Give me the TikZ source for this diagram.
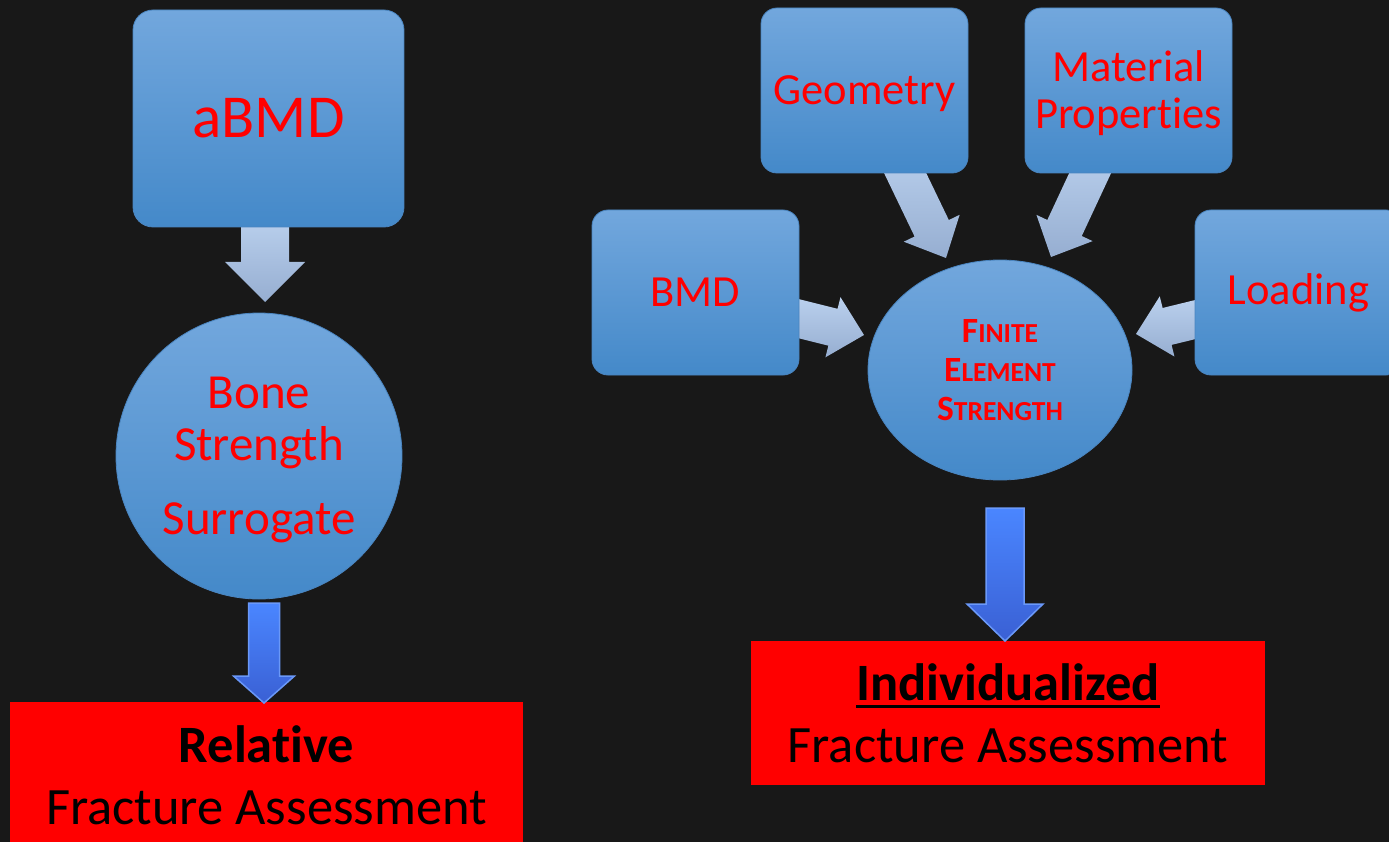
\documentclass[tikz,border=0pt]{standalone}
\usepackage{fontspec}
\setmainfont{Carlito}[Ligatures=NoCommon]
\usetikzlibrary{calc,shapes.geometric}
\definecolor{bgc}{HTML}{181818}
\definecolor{boxtop}{HTML}{72A7DD}
\definecolor{boxbot}{HTML}{4489C9}
\definecolor{boxedge}{HTML}{4A85C0}
\definecolor{lighttop}{HTML}{BBD1EE}
\definecolor{lightbot}{HTML}{96AED1}
\definecolor{bluetop}{HTML}{4A86FF}
\definecolor{bluebot}{HTML}{3A60D4}
\definecolor{blueedge}{HTML}{6A98F8}
\definecolor{txtred}{HTML}{FF0000}
\pgfdeclarelayer{bglayer}
\pgfdeclarelayer{arrowlayer}
\pgfsetlayers{bglayer,arrowlayer,main}
% tail, tip, shaft half width, head half width, head length, style
\newcommand\mkarrow[6]{%
  \coordinate (mk-h) at ($(#2)!#5!(#1)$);
  \path[#6] ($(#1)!#3!90:(#2)$) -- ($(mk-h)!#3!90:(#2)$) -- ($(mk-h)!#4!90:(#2)$)
    -- (#2) -- ($(mk-h)!#4!-90:(#2)$) -- ($(mk-h)!#3!-90:(#2)$) -- ($(#1)!#3!-90:(#2)$) -- cycle;
}
\newcommand\fsc[2]{{\fontsize{35.5}{39}\selectfont #1}{\fontsize{27.5}{39}\selectfont #2}}
\newcommand\ulb[1]{\setbox0\hbox{#1}\rlap{\rule[-8pt]{\wd0}{3pt}}\box0}
\newcommand\dropit[1]{\raisebox{-3pt}[\height][\depth]{#1}}
\tikzset{
  bluebox/.style={rectangle, rounded corners=16pt, top color=boxtop, bottom color=boxbot,
    draw=boxedge, line width=0.8pt, text=txtred, align=center, inner sep=0pt,
    minimum width=207pt, minimum height=165pt, font=\fontsize{44.5}{47}\selectfont},
  redbox/.style={rectangle, fill=txtred, text=black, align=center, inner sep=0pt,
    font=\fontsize{52.5}{62}\selectfont},
  lightarrow/.style={top color=lighttop, bottom color=lightbot},
  bluearrow/.style={top color=bluetop, bottom color=bluebot, draw=blueedge, line width=1.5pt, line join=miter},
}
\begin{document}
\begin{tikzpicture}[x=1pt,y=-1pt]
\useasboundingbox (0,0) rectangle (1389,842);
\begin{pgfonlayer}{bglayer}
  \fill[bgc] (0,0) rectangle (1389,842);
\end{pgfonlayer}

% left column
\node[bluebox, minimum width=271pt, minimum height=217pt, rounded corners=20pt,
  font=\fontsize{61}{64}\selectfont] (abmd) at (268.5,118.5) {aBMD};
\node[circle, minimum size=286pt, inner sep=0pt, top color=boxtop, bottom color=boxbot,
  draw=boxedge, line width=0.8pt, text=txtred, align=center,
  font=\fontsize{49}{52}\selectfont] (bone) at (259,456) {\rule{0pt}{40pt}Bone\\Strength\\[22pt]Surrogate};
\node[redbox, minimum width=513pt, minimum height=146pt] (rel) at (266.5,775)
  {\textbf{Relat\kern0pt ive}\\Fracture Assessment};

% right group
\node[bluebox] (geo) at (864.5,90.5) {\dropit{Geometry}};
\node[bluebox] (mat) at (1128.5,90.5) {\dropit{Material}\\\dropit{Propert\kern0pt ies}};
\node[bluebox] (bmd) at (695.5,292.5) {BMD};
\node[bluebox] (load) at (1298.5,292.5) {Loading};
\node[ellipse, minimum width=264pt, minimum height=220pt, inner sep=0pt,
  top color=boxtop, bottom color=boxbot, draw=boxedge, line width=0.8pt,
  text=txtred, align=center, font=\bfseries\fontsize{35.5}{39}\selectfont] (fe) at (1000,370)
  {\fsc{F}{INITE}\\\fsc{E}{LEMENT}\\\fsc{S}{TRENGTH}};
\node[redbox, minimum width=514pt, minimum height=144pt] (ind) at (1008,713)
  {\textbf{\ulb{Individualized}}\\Fracture Assessment};

% connector end points
\coordinate (abmd-t) at (265,215);   \coordinate (bone-h) at (265,302);
\coordinate (bone-t) at (264,603);   \coordinate (rel-h) at (264,703);
\coordinate (geo-t) at (895,152);    \coordinate (geo-h) at (946,258);
\coordinate (mat-t) at (1100,152);   \coordinate (mat-h) at (1051,257);
\coordinate (bmd-t) at (780,314);    \coordinate (bmd-h) at (864,335);
\coordinate (load-t) at (1214,315);  \coordinate (load-h) at (1136,334);
\coordinate (fe-t) at (1005,508);    \coordinate (ind-h) at (1005,641);

\begin{pgfonlayer}{arrowlayer}
  \mkarrow{abmd-t}{bone-h}{24pt}{40pt}{40pt}{lightarrow}
  \mkarrow{geo-t}{geo-h}{19pt}{31pt}{33pt}{lightarrow}
  \mkarrow{mat-t}{mat-h}{19pt}{31pt}{32pt}{lightarrow}
  \mkarrow{bmd-t}{bmd-h}{19pt}{31pt}{32pt}{lightarrow}
  \mkarrow{load-t}{load-h}{19pt}{31pt}{32pt}{lightarrow}
\end{pgfonlayer}
\mkarrow{bone-t}{rel-h}{15.5pt}{30.5pt}{27pt}{bluearrow}
\mkarrow{fe-t}{ind-h}{19pt}{38pt}{37pt}{bluearrow}
\end{tikzpicture}
\end{document}
